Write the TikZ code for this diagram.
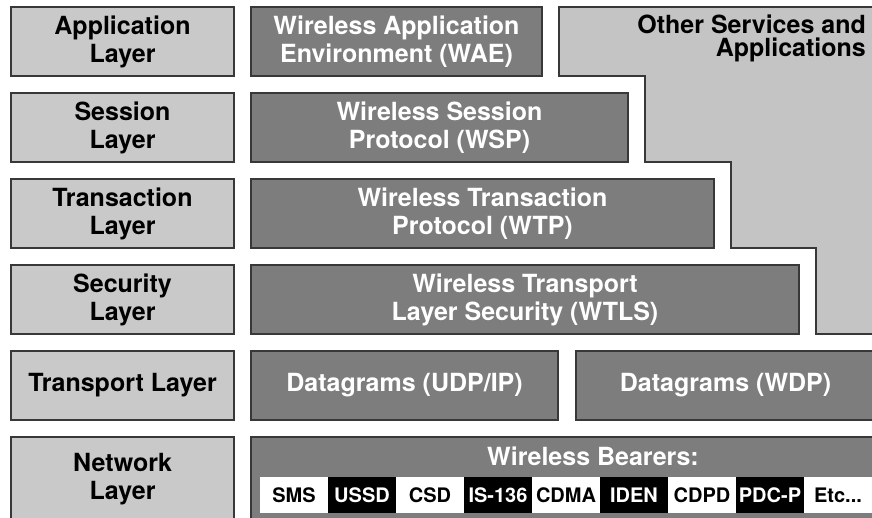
\documentclass[tikz,border=0pt]{standalone}
\usepackage{fontspec}
\setmainfont{TeX Gyre Heros}
\usetikzlibrary{positioning}

\definecolor{layerfill}{gray}{0.79}
\definecolor{protofill}{gray}{0.49}
\definecolor{otherfill}{gray}{0.77}
\definecolor{edge}{gray}{0.22}
\newcommand\boxfont{\bfseries\fontsize{25}{28}\selectfont}
\newcommand\cellfont{\bfseries\fontsize{20}{22}\selectfont}
\newcommand\etcdots{Etc...}

\begin{document}
\begin{tikzpicture}[x=1pt, y=1pt, node distance=17pt,
	box/.style={draw=edge, line width=1.3pt, outer sep=0pt, inner sep=0pt, minimum height=69pt, align=center, font=\boxfont},
	layerbox/.style={box, fill=layerfill, minimum width=223pt},
	protobox/.style={box, fill=protofill, text=white},
	litcell/.style={fill=white, text=black, outer sep=0pt, inner sep=0pt, minimum width=68pt, minimum height=36pt, font=\cellfont},
	darkcell/.style={litcell, fill=black, text=white}]
	\useasboundingbox (0,0) rectangle (872,-518);
	\clip (0,0) rectangle (872,-518);

	\node[layerbox, anchor=north west] (app) at (11,-7) {Application\\Layer};
	\node[layerbox, below=of app] (ses) {Session\\Layer};
	\node[layerbox, below=of ses] (tra) {Transaction\\Layer};
	\node[layerbox, below=of tra] (sec) {Security\\Layer};
	\node[layerbox, below=of sec] (tpt) {Transport Layer};
	\node[layerbox, below=of tpt, minimum height=84pt] (net) {Network\\Layer};

	\node[protobox, right=of app, minimum width=291pt] (wae) {Wireless Application\\Environment (WAE)};
	\node[protobox, right=of ses, minimum width=377pt] (wsp) {Wireless Session\\Protocol (WSP)};
	\node[protobox, right=of tra, minimum width=463pt] (wtp) {Wireless Transaction\\Protocol (WTP)};
	\node[protobox, right=of sec, minimum width=548pt] (wtls) {Wireless Transport\\Layer Security (WTLS)};
	\node[protobox, right=of tpt, minimum width=307pt] (udp) {Datagrams (UDP/IP)};
	\node[protobox, right=18pt of udp, minimum width=299pt] (wdp) {Datagrams (WDP)};
	\node[protobox, right=of net, minimum width=624pt, minimum height=84pt] (bear) {};
	\node[font=\boxfont, text=white, inner sep=0pt] (beartitle) at ([xshift=30pt, yshift=-19pt]bear.north) {Wireless Bearers:};

	% bearer strip
	\foreach \bname [count=\i] in {SMS,USSD,CSD,IS-136,CDMA,IDEN,CDPD,PDC-P,\etcdots} {
		\ifodd\i \def\cellstyle{litcell}\else \def\cellstyle{darkcell}\fi
		\ifnum\i=1
			\node[\cellstyle, anchor=west] (b\i) at ([xshift=9pt, yshift=-58pt]bear.north west) {\bname};
		\else
			\pgfmathtruncatemacro\prev{\i-1}
			\node[\cellstyle, right=0pt of b\prev] (b\i) {\bname};
		\fi
	}

	\draw[draw=edge, line width=1.3pt, fill=otherfill]
		([xshift=17pt]wae.north east) -- ([xshift=17pt]wae.south east)
		-| ([xshift=17pt]wsp.south east) -| ([xshift=17pt]wtp.south east)
		-| ([xshift=17pt]wtls.south east) -- ++(80,0) |- ([xshift=17pt]wae.north east) -- cycle;
	\node[font=\bfseries\fontsize{25}{23}\selectfont, align=right, anchor=north east, inner sep=0pt] (other) at (866,-15) {Other Services and\\Applications};
\end{tikzpicture}
\end{document}
